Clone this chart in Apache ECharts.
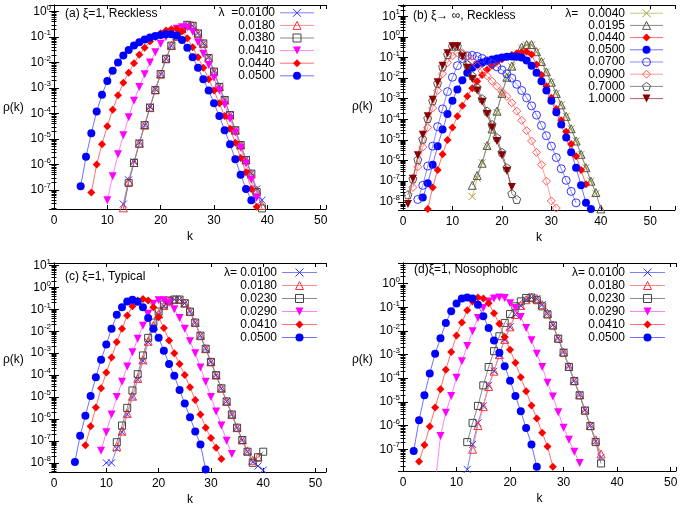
<!DOCTYPE html>
<html>
<head>
<meta charset="utf-8">
<script src="https://cdn.jsdelivr.net/npm/echarts@6/dist/echarts.min.js"></script>
<style>
html, body { margin: 0; padding: 0; background: #fff; }
#chart { width: 681px; height: 507px; }
</style>
</head>
<body>
<div id="chart"></div>
<script>
// rho(k); each list starts at the k given in the *Start array
var aLambda = ['0.0100', '0.0180', '0.0380', '0.0410', '0.0440', '0.0500'];
var aStart = [13, 13, 13, 10, 7, 5];
var a0100 = [2.8e-8, 2.5e-7, 1.3e-6, 7.1e-6, 3.5e-5, 1.8e-4, 8.9e-4, 3.5e-3, 1.4e-2, 4.5e-2, 0.105, 0.21, 0.30, 0.275, 0.14, 0.056, 0.016, 4.5e-3, 1.2e-3, 3.4e-4, 8.9e-5, 2.3e-5, 6.0e-6, 1.6e-6, 4.5e-7, 1.1e-7, 4.0e-8];
var a0180 = [2.0e-8, 2.2e-7, 1.2e-6, 6.8e-6, 3.5e-5, 1.7e-4, 8.5e-4, 3.5e-3, 1.4e-2, 4.6e-2, 0.107, 0.21, 0.30, 0.28, 0.14, 0.055, 0.015, 4.4e-3, 1.1e-3, 3.3e-4, 8.7e-5, 2.2e-5, 5.8e-6, 1.5e-6, 4.2e-7, 1.0e-7, 2.5e-8];
var a0380 = [1.7e-8, 1.9e-7, 1.15e-6, 6.6e-6, 3.5e-5, 1.7e-4, 8.3e-4, 3.5e-3, 1.4e-2, 4.6e-2, 0.105, 0.21, 0.30, 0.275, 0.138, 0.056, 0.015, 4.4e-3, 1.1e-3, 3.4e-4, 8.7e-5, 2.2e-5, 5.8e-6, 1.5e-6, 4.4e-7, 8.3e-8, 1.9e-8];
var a0410 = [4.0e-8, 3.5e-7, 2.5e-6, 1.4e-5, 7.1e-5, 3.2e-4, 1.1e-3, 3.5e-3, 1.0e-2, 2.5e-2, 5.4e-2, 0.10, 0.16, 0.21, 0.24, 0.235, 0.16, 0.063, 0.022, 7.9e-3, 2.5e-3, 7.9e-4, 2.2e-4, 6.3e-5, 1.8e-5, 4.5e-6, 1.1e-6, 2.5e-7, 5.0e-8];
var a0440 = [7.9e-8, 1.0e-6, 6.3e-6, 3.2e-5, 1.4e-4, 5.2e-4, 1.6e-3, 4.0e-3, 9.3e-3, 2.0e-2, 3.8e-2, 6.6e-2, 0.10, 0.14, 0.178, 0.20, 0.21, 0.166, 0.089, 0.040, 0.016, 6.3e-3, 2.2e-3, 7.9e-4, 2.5e-4, 7.9e-5, 2.5e-5, 7.1e-6, 1.8e-6, 5.0e-7, 1.1e-7, 2.2e-8];
var a0500 = [1.4e-7, 2.0e-6, 1.7e-5, 1.2e-4, 5.5e-4, 1.9e-3, 4.7e-3, 1.0e-2, 1.9e-2, 3.1e-2, 4.6e-2, 6.3e-2, 7.9e-2, 9.5e-2, 0.11, 0.12, 0.129, 0.129, 0.115, 0.076, 0.038, 0.016, 6.3e-3, 2.2e-3, 7.9e-4, 2.5e-4, 7.9e-5, 2.2e-5, 6.3e-6, 1.6e-6, 4.0e-7, 1.1e-7, 4.0e-8];

var bLambda = ['0.0040', '0.0195', '0.0440', '0.0500', '0.0700', '0.0900', '0.7000', '1.0000'];
var bStart = [14, 14, 5, 4, 3, 2, 1, 1];
var b0040 = [1.8e-8, 1.4e-7, 7.9e-7, 5.0e-6, 3.2e-5, 2.2e-4, 1.6e-3, 1.0e-2, 3.5e-2, 0.11, 0.28, 0.40, 0.40, 0.19, 0.063, 0.020, 6.3e-3, 1.8e-3, 5.0e-4, 1.4e-4, 3.5e-5, 8.9e-6, 2.0e-6, 4.5e-7, 1.0e-7, 2.5e-8];
var b0195 = [6.3e-8, 1.9e-7, 7.4e-7, 5.4e-6, 3.4e-5, 2.5e-4, 1.8e-3, 1.1e-2, 3.8e-2, 0.117, 0.32, 0.42, 0.42, 0.19, 0.063, 0.020, 6.3e-3, 1.8e-3, 5.0e-4, 1.4e-4, 3.5e-5, 8.9e-6, 2.0e-6, 4.5e-7, 1.0e-7, 2.8e-8, 4.5e-9];
var b0440 = [4.5e-9, 5.0e-8, 3.5e-7, 2.0e-6, 1.0e-5, 4.0e-5, 1.4e-4, 4.5e-4, 1.3e-3, 3.2e-3, 7.1e-3, 1.4e-2, 2.5e-2, 4.0e-2, 6.0e-2, 8.3e-2, 0.107, 0.13, 0.16, 0.18, 0.19, 0.14, 0.045, 0.014, 4.0e-3, 1.1e-3, 3.2e-4, 8.9e-5, 2.5e-5, 6.3e-6, 1.6e-6, 3.5e-7, 7.1e-8];
var b0500 = [1.6e-8, 7.9e-8, 6.3e-7, 5.0e-6, 3.2e-5, 1.8e-4, 7.9e-4, 2.8e-3, 7.9e-3, 1.8e-2, 3.2e-2, 4.5e-2, 5.6e-2, 6.8e-2, 7.9e-2, 8.9e-2, 0.10, 0.107, 0.112, 0.112, 0.10, 0.071, 0.040, 0.018, 7.1e-3, 2.5e-3, 7.9e-4, 2.2e-4, 5.6e-5, 1.3e-5, 2.5e-6, 4.5e-7, 6.3e-8, 8.9e-9, 4.5e-9];
var b0700 = [1.3e-8, 6.3e-8, 5.4e-7, 5.0e-6, 4.4e-5, 3.2e-4, 2.2e-3, 1.1e-2, 4.0e-2, 8.9e-2, 0.12, 0.126, 0.112, 8.9e-2, 6.8e-2, 5.0e-2, 3.5e-2, 2.5e-2, 1.6e-2, 1.0e-2, 5.0e-3, 2.5e-3, 1.1e-3, 4.5e-4, 1.6e-4, 5.0e-5, 1.6e-5, 5.0e-6, 1.4e-6, 4.0e-7, 1.1e-7, 3.2e-8, 8.9e-9];
var b0900 = [5.0e-8, 5.0e-7, 4.5e-6, 4.0e-5, 3.5e-4, 2.5e-3, 1.6e-2, 5.6e-2, 0.12, 0.166, 0.17, 0.117, 7.1e-2, 4.0e-2, 2.2e-2, 1.3e-2, 7.1e-3, 4.0e-3, 2.2e-3, 1.3e-3, 6.3e-4, 2.5e-4, 8.9e-5, 2.8e-5, 8.9e-6, 2.5e-6, 6.3e-7, 1.0e-7, 1.1e-8, 5.0e-9];
var b7000 = [2.2e-8, 1.3e-7, 1.1e-6, 1.1e-5, 1.1e-4, 7.9e-4, 5.6e-3, 3.5e-2, 0.14, 0.35, 0.35, 0.14, 4.5e-2, 1.3e-2, 3.5e-3, 1.0e-3, 2.5e-4, 5.6e-5, 1.3e-5, 2.5e-6, 4.5e-7, 2.5e-8, 1.3e-8];
var b10000 = [7.9e-9, 1.3e-7, 1.8e-6, 1.8e-5, 1.4e-4, 8.9e-4, 6.3e-3, 4.0e-2, 0.16, 0.35, 0.35, 0.112, 3.2e-2, 8.9e-3, 2.5e-3, 7.1e-4, 1.8e-4, 4.0e-5, 8.9e-6, 1.8e-6, 3.2e-7, 5.2e-8];

var cLambda = ['0.0100', '0.0180', '0.0230', '0.0290', '0.0410', '0.0500'];
var cStart = [10, 12, 12, 9, 6, 4];
var c0100 = [1.0e-8, 1.0e-8, 4.5e-8, 2.5e-7, 1.6e-6, 1.0e-5, 6.3e-5, 4.5e-4, 3.2e-3, 1.6e-2, 5.6e-2, 0.14, 0.24, 0.28, 0.28, 0.19, 7.9e-2, 2.5e-2, 6.3e-3, 1.6e-3, 4.0e-4, 1.0e-4, 2.5e-5, 6.3e-6, 1.6e-6, 4.0e-7, 1.1e-7, 3.2e-8, 1.1e-8, 7.1e-9, 4.7e-9];
var c0180 = [5.6e-8, 2.8e-7, 1.8e-6, 1.1e-5, 7.1e-5, 5.0e-4, 3.5e-3, 1.8e-2, 6.3e-2, 0.148, 0.245, 0.28, 0.28, 0.19, 7.9e-2, 2.5e-2, 6.3e-3, 1.6e-3, 4.0e-4, 1.0e-4, 2.5e-5, 6.3e-6, 1.6e-6, 4.0e-7, 1.1e-7, 3.5e-8, 1.3e-8, 1.8e-8];
var c0230 = [8.7e-8, 5.0e-7, 3.2e-6, 2.0e-5, 1.1e-4, 7.9e-4, 5.0e-3, 2.5e-2, 7.9e-2, 0.166, 0.25, 0.28, 0.28, 0.19, 7.9e-2, 2.5e-2, 6.3e-3, 1.6e-3, 4.0e-4, 1.0e-4, 2.5e-5, 6.3e-6, 1.6e-6, 4.0e-7, 1.1e-7, 3.2e-8, 1.0e-8, 1.8e-8, 3.2e-8];
var c0290 = [3.5e-8, 2.5e-7, 1.6e-6, 1.0e-5, 5.0e-5, 2.5e-4, 1.1e-3, 4.5e-3, 1.8e-2, 6.3e-2, 0.178, 0.26, 0.26, 0.20, 0.10, 4.0e-2, 1.3e-2, 3.5e-3, 1.0e-3, 2.2e-4, 5.0e-5, 1.0e-5, 2.2e-6, 5.0e-7, 1.0e-7, 2.5e-8];
var c0410 = [6.3e-8, 4.6e-7, 3.3e-6, 2.5e-5, 1.3e-4, 6.3e-4, 3.2e-3, 1.3e-2, 5.2e-2, 0.138, 0.25, 0.30, 0.25, 0.126, 4.4e-2, 1.4e-2, 3.8e-3, 1.0e-3, 3.2e-4, 1.0e-4, 2.8e-5, 7.4e-6, 1.6e-6, 4.0e-7, 1.35e-7, 4.8e-8, 1.5e-8];
var c0500 = [1.1e-8, 1.7e-7, 1.4e-6, 1.1e-5, 7.9e-5, 5.0e-4, 2.5e-3, 1.3e-2, 5.6e-2, 0.126, 0.23, 0.275, 0.224, 0.126, 4.0e-2, 1.3e-2, 5.0e-3, 1.3e-3, 3.2e-4, 9.3e-5, 2.1e-5, 5.0e-6, 1.2e-6, 2.7e-7, 6.8e-8, 5.0e-9];

var dLambda = ['0.0100', '0.0180', '0.0230', '0.0290', '0.0410', '0.0500'];
var dStart = [12, 13, 12, 6, 3, 2];
var d0100 = [1.4e-8, 1.6e-7, 1.3e-6, 6.8e-6, 5.0e-5, 2.0e-4, 1.0e-3, 4.4e-3, 1.5e-2, 4.9e-2, 0.117, 0.21, 0.26, 0.235, 0.13, 5.6e-2, 1.8e-2, 5.0e-3, 1.3e-3, 3.2e-4, 7.9e-5, 2.0e-5, 4.5e-6, 1.0e-6, 2.2e-7, 4.5e-8];
var d0180 = [1.0e-7, 1.0e-6, 6.3e-6, 4.5e-5, 2.0e-4, 1.0e-3, 4.4e-3, 1.5e-2, 5.0e-2, 0.12, 0.21, 0.26, 0.235, 0.13, 5.6e-2, 1.8e-2, 5.0e-3, 1.3e-3, 3.2e-4, 7.9e-5, 2.0e-5, 4.5e-6, 1.0e-6, 2.5e-7, 6.3e-8];
var d0230 = [2.0e-7, 1.3e-6, 6.8e-6, 5.0e-5, 3.0e-4, 1.4e-3, 6.0e-3, 2.2e-2, 5.2e-2, 0.11, 0.178, 0.25, 0.26, 0.20, 0.11, 5.0e-2, 1.7e-2, 4.7e-3, 1.2e-3, 3.0e-4, 7.6e-5, 1.9e-5, 4.3e-6, 9.5e-7, 2.0e-7, 2.5e-8];
var d0290 = [3.2e-9, 3.6e-7, 3.5e-6, 1.8e-5, 1.05e-4, 5.2e-4, 2.3e-3, 9.8e-3, 3.5e-2, 9.3e-2, 0.178, 0.234, 0.26, 0.25, 0.15, 9.3e-2, 3.9e-2, 1.35e-2, 4.1e-3, 1.1e-3, 3.0e-4, 6.5e-5, 1.7e-5, 3.7e-6, 8.1e-7, 2.5e-7, 7.8e-8, 2.6e-8];
var d0410 = [3.0e-8, 1.5e-7, 9.1e-7, 5.8e-6, 3.4e-5, 2.3e-4, 1.3e-3, 6.5e-3, 2.3e-2, 7.6e-2, 0.178, 0.26, 0.234, 0.15, 5.6e-2, 2.0e-2, 5.6e-3, 1.6e-3, 4.5e-4, 1.1e-4, 2.8e-5, 7.1e-6, 2.0e-6, 5.0e-7, 1.3e-7, 1.8e-8];
var d0500 = [8.5e-8, 1.7e-6, 1.9e-5, 1.6e-4, 1.1e-3, 4.9e-3, 2.2e-2, 6.8e-2, 0.145, 0.234, 0.26, 0.234, 0.13, 4.2e-2, 1.35e-2, 4.0e-3, 1.2e-3, 3.2e-4, 7.9e-5, 1.8e-5, 4.0e-6, 7.9e-7, 1.6e-7, 1.8e-8];

var FONT = '"Liberation Sans", Arial, Helvetica, sans-serif';

// gnuplot-like point types
var MARKS = {
    cross: {symbol: 'path://M0,0L10,10M10,0L0,10', size: 7, filled: false},
    tri: {symbol: 'triangle', size: 8, filled: false},
    square: {symbol: 'rect', size: 7, filled: false},
    down: {symbol: 'triangle', rotate: 180, size: 8, filled: true},
    diamond: {symbol: 'diamond', size: 8, filled: true},
    dot: {symbol: 'circle', size: 8, filled: true},
    ring: {symbol: 'circle', size: 8, filled: false},
    odiamond: {symbol: 'diamond', size: 8, filled: false},
    pent: {symbol: 'path://M5,0L10,3.8L8.1,10L1.9,10L0,3.8Z', size: 8, filled: false}
};

var sixMarks = ['cross', 'tri', 'square', 'down', 'diamond', 'dot'];
var sixColors = ['#3333ff', '#ff3333', '#444444', '#ff00ff', '#ff0000', '#0000ff'];
var sixLines = ['#8080ff', '#ff8c8c', '#8a8a8a', '#ff80ff', '#ff7070', '#7070ff'];

var panels = [
    {
        id: 'a', grid: {left: 54, top: 5, width: 272, height: 204}, xMax: 51, yMin: 1.8e-8, yMax: 1.8,
        names: aLambda, starts: aStart, values: [a0100, a0180, a0380, a0410, a0440, a0500],
        marks: sixMarks, colors: sixColors, lines: sixLines, first: 'λ  =0.0100',
        legend: {left: 205, top: 6.8, itemWidth: 34, itemGap: 0.6, textWidth: 70},
        title: '(a) ξ=1, Reckless', titlePos: [65, 8], yName: [3, 102]
    },
    {
        id: 'b', grid: {left: 403, top: 5, width: 272, height: 205}, xMax: 55, yMin: 4e-9, yMax: 35,
        names: bLambda, starts: bStart, values: [b0040, b0195, b0440, b0500, b0700, b0900, b7000, b10000],
        marks: ['cross', 'tri', 'diamond', 'dot', 'ring', 'odiamond', 'pent', 'down'],
        colors: ['#a0a030', '#555555', '#ff0000', '#0000ff', '#3333ff', '#ff5555', '#555555', '#880000'],
        lines: ['#c8c880', '#8a8a8a', '#ff7070', '#7070ff', '#8c8cff', '#ff9c9c', '#8a8a8a', '#b06060'],
        first: 'λ=   0.0040',
        legend: {left: 561, top: 7.2, itemWidth: 33, itemGap: 0.2, textWidth: 64},
        title: '(b) ξ→ ∞, Reckless', titlePos: [413, 10], yName: [352, 101]
    },
    {
        id: 'c', grid: {left: 54, top: 263, width: 272, height: 209}, xMax: 52, yMin: 3.8e-9, yMax: 13,
        names: cLambda, starts: cStart, values: [c0100, c0180, c0230, c0290, c0410, c0500],
        marks: sixMarks, colors: sixColors, lines: sixLines, first: 'λ= 0.0100',
        legend: {left: 207, top: 266.5, itemWidth: 35, itemGap: 1, textWidth: 70},
        title: '(c) ξ=1, Typical', titlePos: [65, 271], yName: [3, 354]
    },
    {
        id: 'd', grid: {left: 403, top: 263, width: 273, height: 208}, xMax: 51, yMin: 1.2e-8, yMax: 7.5,
        names: dLambda, starts: dStart, values: [d0100, d0180, d0230, d0290, d0410, d0500],
        marks: sixMarks, colors: sixColors, lines: sixLines, first: 'λ= 0.0100',
        legend: {left: 555, top: 266.5, itemWidth: 35, itemGap: 1, textWidth: 70},
        title: '(d)ξ=1, Nosophobic', titlePos: [414, 264], yName: [352, 354]
    }
];

function xAxis(i, max, bottom) {
    return {
        type: 'value', gridIndex: i, min: 0, max: max, interval: 10,
        position: bottom ? 'bottom' : 'top',
        name: bottom ? 'k' : '', nameLocation: 'middle', nameGap: 22,
        nameTextStyle: {fontSize: 12, fontFamily: FONT, color: '#000'},
        axisLine: {show: true, lineStyle: {color: '#000', width: 1}},
        axisTick: {show: true, inside: true, length: 4, lineStyle: {color: '#000'}},
        axisLabel: {
            show: bottom, fontSize: 12, fontFamily: FONT, color: '#000', margin: 6,
            formatter: function (v) { return v % 10 === 0 ? String(v) : ''; }
        },
        splitLine: {show: false}
    };
}

function yAxis(i, min, max, left) {
    return {
        type: 'log', logBase: 10, gridIndex: i, min: min, max: max, splitNumber: 10,
        position: left ? 'left' : 'right',
        axisLine: {show: true, lineStyle: {color: '#000', width: 1}},
        axisTick: {show: true, inside: true, length: 5, lineStyle: {color: '#000'}},
        minorTick: {show: true, splitNumber: 9, length: 2.5, lineStyle: {color: '#000'}},
        axisLabel: {
            show: left, margin: 3,
            formatter: function (v) {
                var e = Math.log10(v);
                var r = Math.round(e);
                if (Math.abs(e - r) > 1e-6) {
                    return '';
                }
                return '{b|10}{e|' + r + '}';
            },
            rich: {
                b: {fontSize: 12, fontFamily: FONT, color: '#000'},
                e: {fontSize: 8, fontFamily: FONT, color: '#000', padding: [0, 0, 8, 0]}
            }
        },
        splitLine: {show: false}
    };
}

var option = {
    animation: false,
    backgroundColor: '#fff',
    grid: [], xAxis: [], yAxis: [], series: [], legend: [], graphic: []
};

panels.forEach(function (p, i) {
    option.grid.push(p.grid);
    option.xAxis.push(xAxis(i, p.xMax, true), xAxis(i, p.xMax, false));
    option.yAxis.push(yAxis(i, p.yMin, p.yMax, true), yAxis(i, p.yMin, p.yMax, false));

    var names = [];
    p.names.forEach(function (lam, j) {
        var name = p.id + '|' + lam;
        names.push(name);
        var data = p.values[j].map(function (v, n) {
            return [p.starts[j] + n, v];
        });
        var m = MARKS[p.marks[j]];
        option.series.push({
            type: 'line', name: name, xAxisIndex: 2 * i, yAxisIndex: 2 * i,
            data: data,
            symbol: m.symbol, symbolSize: m.size, symbolRotate: m.rotate || 0,
            showAllSymbol: true,
            lineStyle: {color: p.lines[j], width: 1},
            itemStyle: m.filled
                ? {color: p.colors[j], borderWidth: 0}
                : {color: 'rgba(0,0,0,0)', borderColor: p.colors[j], borderWidth: 1},
            emphasis: {disabled: true}
        });
    });

    var first = names[0];
    option.legend.push({
        orient: 'vertical', align: 'right', selectedMode: false, padding: 0,
        left: p.legend.left, top: p.legend.top,
        itemWidth: p.legend.itemWidth, itemHeight: 10, itemGap: p.legend.itemGap,
        lineStyle: {width: 1},
        itemStyle: {borderWidth: 1},
        data: names,
        formatter: function (name) {
            var label = name === first ? p.first : name.split('|')[1];
            return '{t|' + label + '}';
        },
        textStyle: {
            fontSize: 12, fontFamily: FONT, color: '#000', lineHeight: 11,
            rich: {t: {width: p.legend.textWidth, align: 'right', fontSize: 12, fontFamily: FONT, color: '#000', lineHeight: 11}}
        }
    });

    option.graphic.push({
        type: 'text', left: p.titlePos[0], top: p.titlePos[1],
        style: {text: p.title, font: '12px ' + FONT, fill: '#000'}
    }, {
        type: 'text', left: p.yName[0], top: p.yName[1],
        style: {text: 'ρ(k)', font: '12px ' + FONT, fill: '#000'}
    });
});

var chart = echarts.init(document.getElementById('chart'), null, {renderer: 'canvas'});
chart.setOption(option);
</script>
</body>
</html>
